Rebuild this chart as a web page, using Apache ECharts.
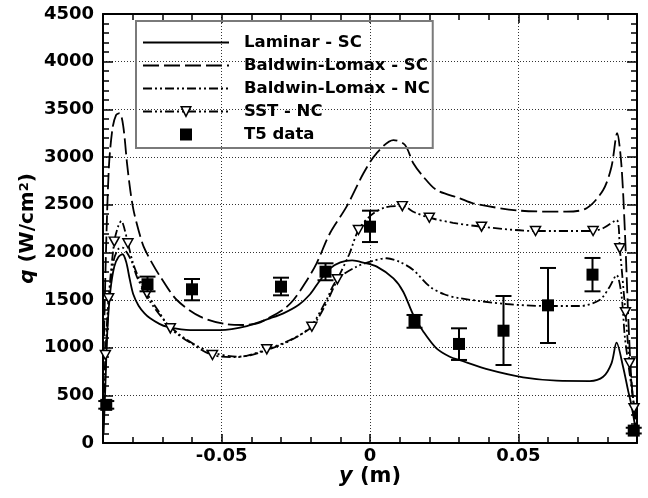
<!DOCTYPE html>
<html>
<head>
<meta charset="utf-8">
<script src="https://cdn.jsdelivr.net/npm/echarts@6/dist/echarts.min.js"></script>
<style>html,body{margin:0;padding:0;background:#fff}#c{width:648px;height:498px}</style>
</head>
<body>
<div id="c"></div>
<script>
// ---------- data ----------
const seriesNames = ['Laminar - SC', 'Baldwin-Lomax - SC', 'Baldwin-Lomax - NC', 'SST - NC', 'T5 data'];

const lamX = [-0.0898,-0.0892,-0.0885,-0.0875,-0.0862,-0.0848,-0.0834,-0.0822,-0.0810,-0.0798,-0.0780,-0.0760,-0.0741,-0.0710,-0.0685,-0.0606,-0.0505,-0.0415,-0.0337,-0.0292,-0.0240,-0.0202,-0.0170,-0.0135,-0.0100,-0.0060,-0.0020,0.0023,0.0079,0.0112,0.0146,0.0180,0.0224,0.0269,0.0303,0.0404,0.0516,0.0629,0.0741,0.0786,0.0814,0.0831,0.0853,0.0870,0.0881,0.0895];
const lamY = [100,600,1200,1600,1850,1950,1980,1900,1720,1560,1440,1360,1308,1250,1220,1185,1185,1227,1308,1360,1450,1560,1700,1830,1895,1915,1890,1850,1727,1587,1343,1168,993,905,868,766,689,654,650,695,836,1052,800,550,400,150];

const blscX = [-0.0898,-0.0890,-0.0880,-0.0868,-0.0856,-0.0844,-0.0832,-0.0819,-0.0808,-0.0797,-0.0780,-0.0763,-0.0735,-0.0707,-0.0651,-0.0572,-0.0482,-0.0426,-0.0380,-0.0348,-0.0292,-0.0258,-0.0218,-0.0180,-0.0135,-0.0079,-0.0022,0.0022,0.0079,0.0118,0.0146,0.0180,0.0224,0.0303,0.0348,0.0505,0.0662,0.0730,0.0786,0.0814,0.0833,0.0847,0.0859,0.0870,0.0881,0.0895];
const blscY = [900,2000,2900,3300,3440,3460,3330,2934,2650,2440,2230,2059,1890,1745,1500,1325,1245,1238,1255,1300,1400,1500,1680,1885,2200,2479,2829,3039,3178,3126,2934,2793,2654,2567,2514,2437,2426,2462,2654,2898,3249,2934,2234,1360,660,200];

const blncX = [-0.0898,-0.0890,-0.0880,-0.0865,-0.0850,-0.0835,-0.0820,-0.0800,-0.0786,-0.0741,-0.0685,-0.0640,-0.0590,-0.0531,-0.0450,-0.0404,-0.0348,-0.0269,-0.0202,-0.0150,-0.0112,-0.0045,0.0010,0.0056,0.0100,0.0146,0.0202,0.0250,0.0303,0.0460,0.0595,0.0707,0.0774,0.0808,0.0831,0.0847,0.0859,0.0872,0.0886,0.0897];
const blncY = [300,900,1500,1900,2030,2050,2000,1880,1745,1482,1256,1133,1030,950,905,920,975,1075,1215,1480,1710,1850,1910,1938,1900,1815,1640,1560,1518,1458,1437,1437,1500,1640,1762,1570,1115,800,485,250];

const sstX = [-0.0898,-0.0892,-0.0881,-0.0862,-0.0848,-0.0838,-0.0828,-0.0816,-0.0800,-0.0786,-0.0752,-0.0710,-0.0673,-0.0600,-0.0531,-0.0450,-0.0404,-0.0348,-0.0269,-0.0196,-0.0150,-0.0110,-0.0070,-0.0039,0.0000,0.0050,0.0109,0.0150,0.0200,0.0280,0.0376,0.0558,0.0752,0.0790,0.0831,0.0842,0.0861,0.0875,0.0890,0.0897];
const sstY = [300,923,1518,2112,2280,2330,2250,2095,1900,1780,1570,1370,1203,1040,923,900,925,983,1080,1220,1450,1717,1980,2234,2380,2470,2485,2420,2363,2310,2269,2224,2224,2260,2339,2042,1371,836,364,150];
const sstMarker = [0,1,1,1,0,0,0,1,0,0,1,0,1,0,1,0,0,1,0,1,0,1,0,1,0,0,1,0,1,0,1,1,1,0,0,1,1,1,1,0];

const t5X = [-0.0889,-0.0750,-0.0600,-0.0300,-0.0150,0.0000,0.0150,0.0300,0.0450,0.0600,0.0750,0.0889];
const t5Y = [400,1665,1612,1640,1797,2269,1280,1039,1178,1444,1766,130];
const t5Lo = [360,1591,1497,1549,1707,2108,1209,871,818,1049,1591,100];
const t5Hi = [440,1745,1720,1734,1885,2437,1343,1203,1542,1836,1941,160];

const xMajorTicks = [-0.05, 0, 0.05];

// ---------- chart ----------
const FONT = 'DejaVu Sans';
const zip = (xs, ys) => xs.map((x, i) => [x, ys[i]]);
const chart = echarts.init(document.getElementById('c'), null, {renderer: 'canvas'});

const dotted = {type: [1, 2], color: '#333', width: 1};
const black = '#000';

const xBase = {
  type: 'value', min: -0.09, max: 0.09,
  axisLine: {onZero: false, lineStyle: {color: black, width: 2}},
  splitLine: {show: false}
};

const option = {
  animation: false,
  backgroundColor: '#fff',
  grid: {left: 103, right: 11, top: 14, bottom: 55},
  xAxis: [
    Object.assign({}, xBase, {position: 'bottom', interval: 0.01,
      axisTick: {inside: true, length: 6, lineStyle: {color: black, width: 1.5}},
      axisLabel: {show: false},
      name: '{i|y} (m)', nameLocation: 'middle', nameGap: 23, nameMoveOverlap: false,
      nameTextStyle: {fontFamily: FONT, fontWeight: 'bold', fontSize: 21, color: black,
        rich: {i: {fontFamily: FONT, fontWeight: 'bold', fontStyle: 'italic', fontSize: 21, color: black}}}
    }),
    Object.assign({}, xBase, {position: 'bottom',
      axisLine: {show: false, onZero: false},
      axisTick: {inside: true, length: 9, customValues: xMajorTicks, lineStyle: {color: black, width: 1.5}},
      axisLabel: {customValues: xMajorTicks, margin: 4, fontFamily: FONT, fontWeight: 'bold', fontSize: 18, color: black},
      splitLine: {show: true, lineStyle: dotted}
    }),
    Object.assign({}, xBase, {position: 'top', interval: 0.01,
      axisTick: {inside: true, length: 6, lineStyle: {color: black, width: 1.5}},
      axisLabel: {show: false}
    }),
    Object.assign({}, xBase, {position: 'top',
      axisLine: {show: false, onZero: false},
      axisTick: {inside: true, length: 9, customValues: xMajorTicks, lineStyle: {color: black, width: 1.5}},
      axisLabel: {show: false}
    })
  ],
  yAxis: [
    {type: 'value', min: 0, max: 4500, interval: 500, position: 'left',
      axisLine: {onZero: false, lineStyle: {color: black, width: 2}},
      axisTick: {inside: true, length: 10, lineStyle: {color: black, width: 1.5}},
      minorTick: {show: true, splitNumber: 5, length: 6, lineStyle: {color: black, width: 1.5}},
      axisLabel: {margin: 9, fontFamily: FONT, fontWeight: 'bold', fontSize: 18, color: black,
        formatter: v => String(v)},
      splitLine: {show: true, lineStyle: dotted},
      name: '{i|q} (W/cm{s|2})', nameLocation: 'middle', nameGap: 65, nameMoveOverlap: false,
      nameTextStyle: {fontFamily: FONT, fontWeight: 'bold', fontSize: 20, color: black,
        rich: {
          i: {fontFamily: FONT, fontWeight: 'bold', fontStyle: 'italic', fontSize: 20, color: black},
          s: {fontFamily: FONT, fontWeight: 'bold', fontSize: 13, color: black, verticalAlign: 'top'}
        }}
    },
    {type: 'value', min: 0, max: 4500, interval: 500, position: 'right',
      axisLine: {onZero: false, lineStyle: {color: black, width: 2}},
      axisTick: {inside: true, length: 10, lineStyle: {color: black, width: 1.5}},
      minorTick: {show: true, splitNumber: 5, length: 6, lineStyle: {color: black, width: 1.5}},
      axisLabel: {show: false},
      splitLine: {show: false}
    }
  ],
  legend: {
    orient: 'vertical', left: 136, top: 21,
    padding: [13, 3, 5, 6],
    itemWidth: 86, itemHeight: 12, itemGap: 6,
    borderColor: '#7a7a7a', borderWidth: 2,
    textStyle: {fontFamily: FONT, fontWeight: 'bold', fontSize: 16.5, color: black, lineHeight: 17, padding: [0, 0, 0, 10]},
    data: [
      {name: seriesNames[0], itemStyle: {opacity: 0}},
      {name: seriesNames[1], itemStyle: {opacity: 0}},
      {name: seriesNames[2], itemStyle: {opacity: 0}},
      {name: seriesNames[3], itemStyle: {color: '#fff', borderColor: black, borderWidth: 1.5}},
      {name: seriesNames[4], icon: 'path://M0,0H10V10H0Z', itemStyle: {color: black, opacity: 1}}
    ]
  },
  series: [
    {name: seriesNames[0], type: 'line', data: zip(lamX, lamY), symbol: 'none', smooth: 0.3,
      lineStyle: {color: black, width: 1.8}, itemStyle: {color: black}, z: 3},
    {name: seriesNames[1], type: 'line', data: zip(blscX, blscY), symbol: 'none', smooth: 0.3,
      lineStyle: {color: black, width: 1.8, type: [16, 5]}, itemStyle: {color: black}, z: 3},
    {name: seriesNames[2], type: 'line', data: zip(blncX, blncY), symbol: 'none', smooth: 0.3,
      lineStyle: {color: black, width: 1.8, type: [9, 3, 2, 3, 2, 3], cap: 'butt'}, itemStyle: {color: black}, z: 3},
    {name: seriesNames[3], type: 'line', smooth: 0.3,
      data: sstX.map((x, i) => sstMarker[i] ? {value: [x, sstY[i]]} : {value: [x, sstY[i]], symbol: 'none'}),
      symbol: 'triangle', symbolRotate: 180, symbolSize: [10, 9], showSymbol: true,
      lineStyle: {color: black, width: 1.8, type: [9, 3, 2, 3, 2, 3], cap: 'butt'},
      itemStyle: {color: '#fff', borderColor: black, borderWidth: 1.5}, z: 4},
    {name: 'errorbars', type: 'custom', z: 5,
      data: t5X.map((x, i) => [x, t5Lo[i], t5Hi[i]]),
      renderItem: function (params, api) {
        const x = api.value(0);
        const p1 = api.coord([x, api.value(1)]);
        const p2 = api.coord([x, api.value(2)]);
        const hw = 8;
        const st = {stroke: black, lineWidth: 2};
        return {type: 'group', children: [
          {type: 'line', shape: {x1: p1[0], y1: p1[1], x2: p2[0], y2: p2[1]}, style: st},
          {type: 'line', shape: {x1: p1[0] - hw, y1: p1[1], x2: p1[0] + hw, y2: p1[1]}, style: st},
          {type: 'line', shape: {x1: p2[0] - hw, y1: p2[1], x2: p2[0] + hw, y2: p2[1]}, style: st}
        ]};
      }
    },
    {name: seriesNames[4], type: 'scatter', data: zip(t5X, t5Y), symbol: 'rect', symbolSize: 12,
      itemStyle: {color: black, opacity: 1}, z: 6}
  ]
};
chart.setOption(option);
</script>
</body>
</html>
